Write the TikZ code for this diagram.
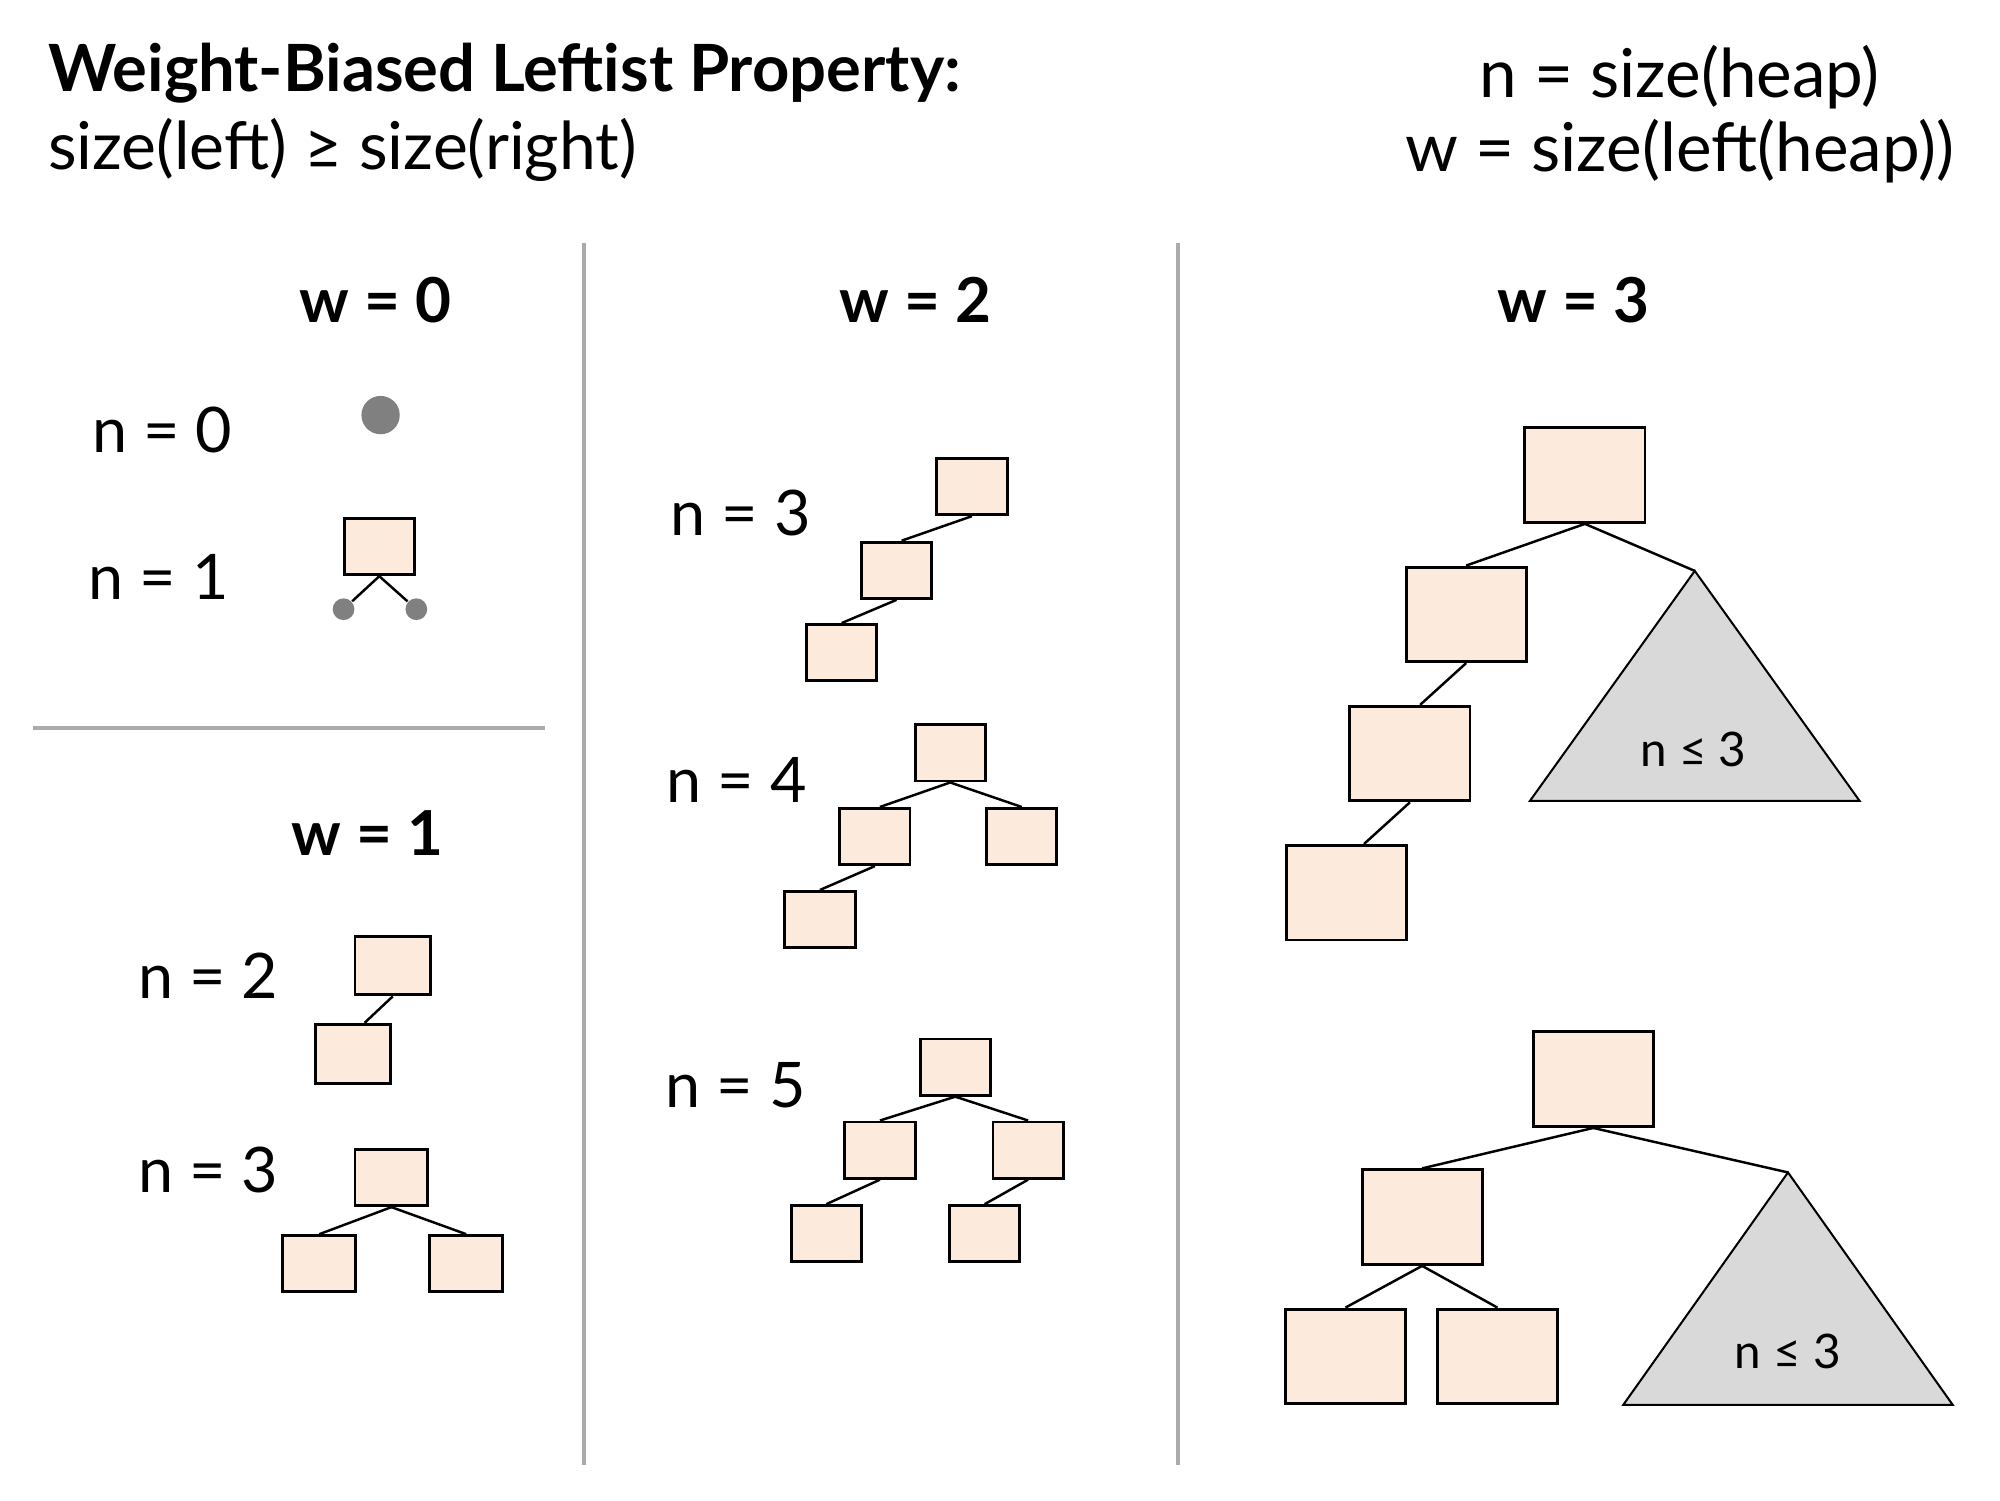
\documentclass[tikz,border=0pt]{standalone}
\usepackage{fontspec}
\setmainfont{Lato}
\usepackage{tikz}

\definecolor{peach}{HTML}{FCEADC}
\definecolor{nilgray}{HTML}{808080}
\definecolor{treegray}{HTML}{D9D9D9}
\definecolor{sepgray}{HTML}{ABABAB}

\tikzset{
	heapbox/.style={draw=black, fill=peach, line width=0.65pt, minimum width=5.5mm, minimum height=4.4mm, inner sep=0pt},
	bigbox/.style={heapbox, minimum width=9.4mm, minimum height=7.4mm},
	nil/.style={circle, fill=nilgray, inner sep=0pt, minimum size=1.7mm},
	sizelabel/.style={font=\fontsize{14}{16}\selectfont},
	wlabel/.style={font=\fontsize{13.8}{16}\selectfont\bfseries},
	header/.style={inner sep=0pt, font=\fontsize{15}{18}\selectfont},
	edge/.style={line width=0.55pt},
	separator/.style={draw=sepgray, line width=0.9pt},
	subtree/.style={draw=black, fill=treegray, line width=0.45pt},
	boundlabel/.style={font=\fontsize{10.6}{12}\selectfont}
}

\begin{document}
\begin{tikzpicture}[x=0.01cm, y=-0.01cm]
	\useasboundingbox (0,0) rectangle (1566,1174.5);

	\node[header, anchor=base west, font=\fontsize{14.5}{18}\selectfont\bfseries] (title) at (37,72) {Weight-Biased Leftist Property:};
	\node[header, anchor=base west, font=\fontsize{14.7}{18}\selectfont] (rule) at (37,133) {size(left) ≥ size(right)};
	\node[header, anchor=base] (defn) at (1315,76) {n = size(heap)};
	\node[header, anchor=base] (defw) at (1315,134) {w = size(left(heap))};

	\draw[separator] (457,190) -- (457,1147);
	\draw[separator] (922,190) -- (922,1147);
	\draw[separator] (26,570) -- (427,570);

	\node[wlabel] (w0) at (294,235) {w = 0};
	\node[wlabel] (w1) at (288,652) {w = 1};
	\node[wlabel] (w2) at (717,235) {w = 2};
	\node[wlabel] (w3) at (1232,235) {w = 3};

	% w = 0
	\node[sizelabel] (l00) at (127,337) {n = 0};
	\node[nil, minimum size=3mm] (e0) at (298,325) {};
	\node[sizelabel] (l01) at (124,452) {n = 1};
	\node[heapbox] (a1) at (297,428) {};
	\node[nil] (d1) at (269,477) {};
	\node[nil] (d2) at (326,477) {};
	\draw[edge] (a1.south) -- (d1);
	\draw[edge] (a1.south) -- (d2);

	% w = 1
	\node[sizelabel] (l12) at (163,764) {n = 2};
	\node[heapbox, minimum width=5.9mm, minimum height=4.6mm] (b1) at (307.5,756) {};
	\node[heapbox, minimum width=5.9mm, minimum height=4.6mm] (b2) at (276.5,825) {};
	\node[sizelabel] (l13) at (163,916) {n = 3};
	\node[heapbox, minimum width=5.7mm] (c1) at (306.5,922) {};
	\node[heapbox, minimum width=5.7mm] (c2) at (250,989.5) {};
	\node[heapbox, minimum width=5.7mm] (c3) at (365,989.5) {};

	% w = 2
	\node[sizelabel] (l23) at (580,402) {n = 3};
	\node[heapbox] (f1) at (761,381) {};
	\node[heapbox] (f2) at (702,446.5) {};
	\node[heapbox] (f3) at (659,511) {};
	\node[sizelabel] (l24) at (577,611) {n = 4};
	\node[heapbox] (g1) at (744,589.5) {};
	\node[heapbox] (g2) at (685,655) {};
	\node[heapbox] (g3) at (800,655) {};
	\node[heapbox] (g4) at (642,720) {};
	\node[sizelabel] (l25) at (576,850) {n = 5};
	\node[heapbox] (h1) at (748,835.5) {};
	\node[heapbox] (h2) at (689,900.5) {};
	\node[heapbox] (h3) at (805,900.5) {};
	\node[heapbox] (h4) at (647,966) {};
	\node[heapbox] (h5) at (771,966) {};

	% w = 3
	\node[bigbox] (p1) at (1241,372) {};
	\node[bigbox] (p2) at (1148,481) {};
	\node[bigbox] (p3) at (1104,590) {};
	\node[bigbox] (p4) at (1054,699) {};
	\coordinate (t1) at (1327,447);
	\draw[subtree] (t1) -- ++(-129,180) -- ++(258,0) -- cycle;
	\node[boundlabel] (s1) at (1326,587) {n ≤ 3};
	\draw[edge] (p1.south) -- (t1);

	\node[bigbox] (q1) at (1247.5,845) {};
	\node[bigbox] (q2) at (1113.5,953) {};
	\node[bigbox] (q3) at (1053.5,1062) {};
	\node[bigbox] (q4) at (1172.5,1062) {};
	\coordinate (t2) at (1400,918);
	\draw[subtree] (t2) -- ++(-129,182) -- ++(258,0) -- cycle;
	\node[boundlabel] (s2) at (1400,1058) {n ≤ 3};
	\draw[edge] (q1.south) -- (t2);

	\foreach \a/\b/\s in {b1/b2/9, c1/c2/0, c1/c3/0, f1/f2/4, f2/f3/0, g1/g2/4, g1/g3/0, g2/g4/0,
			h1/h2/0, h1/h3/0, h2/h4/0, h3/h5/0, p1/p2/0, p2/p3/8, p3/p4/14, q1/q2/0, q2/q3/0, q2/q4/0}
		\draw[edge] (\a.south) -- ([xshift=\s*0.01cm]\b.north);
\end{tikzpicture}
\end{document}
